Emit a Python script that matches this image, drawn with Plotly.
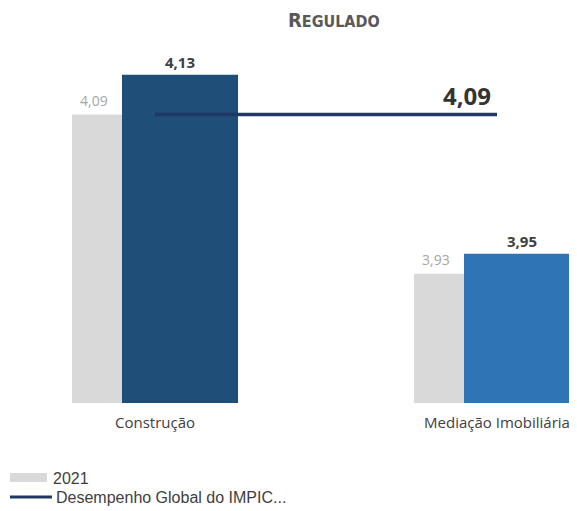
import plotly.graph_objects as go

categories = ["Construção", "Mediação Imobiliária"]
values_2021 = [4.09, 3.93]
values_2022 = [4.13, 3.95]
global_value = 4.09
labels_2021 = ["4,09", "3,93"]
labels_2022 = ["4,13", "3,95"]
global_label = "4,09"
title_text = "R<span style='font-size:16px'>EGULADO</span>"
legend_2021 = "2021"
legend_global = "Desempenho Global do IMPIC..."

# page body adds an 8px margin; design in reference pixels, then shift
OFF = 8
W, H = 577 - OFF, 511 - OFF
T, B = 50 - OFF, 108
PLOT_H = H - T - B
PX_PER_CAT = 342.0
Y0 = 3.8
PX_PER_UNIT = 995.0
CX0 = 155 - OFF
x_start = -CX0 / PX_PER_CAT
x_end = (W - CX0) / PX_PER_CAT

GRAY_OFF, GRAY_W = -83 / PX_PER_CAT, 51 / PX_PER_CAT
BLUE_OFF, BLUE_W = -33 / PX_PER_CAT, 116 / PX_PER_CAT

FONT = "Open Sans"
xs = list(range(len(categories)))

fig = go.Figure()
fig.add_trace(go.Bar(x=xs, y=[v - Y0 for v in values_2021], base=Y0,
                     offset=GRAY_OFF, width=GRAY_W,
                     marker=dict(color="#D9D9D9", line=dict(width=0)),
                     name=legend_2021, showlegend=False))
fig.add_trace(go.Bar(x=xs, y=[v - Y0 for v in values_2022], base=Y0,
                     offset=BLUE_OFF, width=BLUE_W,
                     marker=dict(color=["#1F4E79", "#2E75B6"], line=dict(width=0)),
                     name="2022", showlegend=False))
fig.add_trace(go.Scatter(x=xs, y=[global_value] * len(xs), mode="lines",
                         line=dict(color="#1F3864", width=3.5),
                         name=legend_global, showlegend=False))

ann = []
for i, (v, lab) in enumerate(zip(values_2021, labels_2021)):
    ann.append(dict(x=i + GRAY_OFF + GRAY_W / 2, y=v, xref="x", yref="y",
                    text=lab, showarrow=False, yshift=14, xshift=-4,
                    font=dict(family=FONT, size=14, color="#A6A6A6")))
for i, (v, lab) in enumerate(zip(values_2022, labels_2022)):
    ann.append(dict(x=i + BLUE_OFF + BLUE_W / 2, y=v, xref="x", yref="y",
                    text="<b>" + lab + "</b>", showarrow=False, yshift=13,
                    font=dict(family=FONT, size=15, color="#404040")))
ann.append(dict(x=xs[-1], y=global_value, xref="x", yref="y",
                text="<b>" + global_label + "</b>", showarrow=False,
                xanchor="right", yshift=19, xshift=-4,
                font=dict(family=FONT, size=24, color="#333333")))

def px(p):
    return (p - OFF) / W

def py(p):
    return (403 - p) / PLOT_H

ann.append(dict(x=px(334), y=py(20), xref="paper", yref="paper",
                text="<b>" + title_text + "</b>", showarrow=False,
                xanchor="center", yanchor="middle",
                font=dict(family="DejaVu Sans Condensed", size=20, color="#595959")))
ann.append(dict(x=px(51), y=py(478), xref="paper", yref="paper",
                text=legend_2021, showarrow=False, xanchor="left", yanchor="middle",
                font=dict(family="Liberation Sans", size=16, color="#404040")))
ann.append(dict(x=px(54), y=py(497), xref="paper", yref="paper",
                text=legend_global, showarrow=False, xanchor="left", yanchor="middle",
                font=dict(family="Liberation Sans", size=16, color="#404040")))

shapes = [
    dict(type="rect", xref="paper", yref="paper", x0=px(10), x1=px(47),
         y0=py(482), y1=py(473), fillcolor="#D9D9D9", line=dict(width=0)),
    dict(type="line", xref="paper", yref="paper", x0=px(10), x1=px(52),
         y0=py(497), y1=py(497), line=dict(color="#1F3864", width=3)),
]

fig.update_layout(
    width=W, height=H,
    margin=dict(l=0, r=0, t=T, b=B, pad=0),
    paper_bgcolor="white", plot_bgcolor="white",
    showlegend=False,
    barmode="overlay",
    annotations=ann, shapes=shapes,
    xaxis=dict(range=[x_start, x_end], tickmode="array", tickvals=xs,
               ticktext=categories, showgrid=False, zeroline=False,
               showline=False, ticks="", ticklabelstandoff=9,
               tickfont=dict(family=FONT, size=15, color="#404040")),
    yaxis=dict(range=[Y0, Y0 + PLOT_H / PX_PER_UNIT], visible=False,
               showgrid=False, zeroline=False),
)

fig.write_html("out.html")
